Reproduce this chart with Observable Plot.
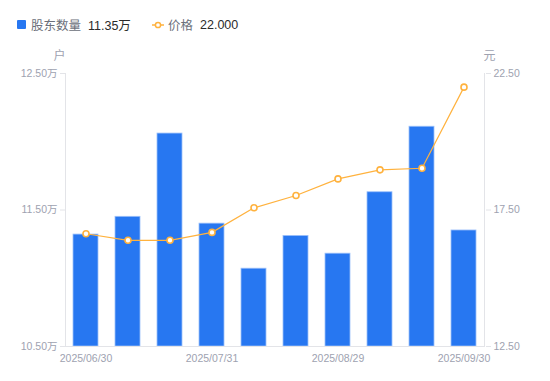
<!DOCTYPE html>
<html><head><meta charset="utf-8">
<script src="https://cdn.jsdelivr.net/npm/d3@7"></script>
<script src="https://cdn.jsdelivr.net/npm/@observablehq/plot@0.6"></script>
<style>
body{margin:0;background:#fff;font-family:"Liberation Sans",Arial,"Noto Sans CJK SC",sans-serif;}
#legend{height:45px;position:relative;font-size:12.5px;}
#legend .item{position:absolute;top:15px;display:flex;align-items:center;white-space:nowrap;}
#legend .name{color:#6b6f7a;margin-right:7px;}
#legend .val{color:#2b2b2b;}
</style></head><body>
<div id="legend">
  <div class="item" style="left:17px"><span style="display:inline-block;width:9px;height:9px;background:#2777f1;border-radius:1px;margin-right:5px"></span><span class="name">股东数量</span><span class="val">11.35万</span></div>
  <div class="item" style="left:152px"><svg width="12" height="10" style="margin-right:4px"><line x1="0" y1="5" x2="12" y2="5" stroke="#ffb23e" stroke-width="1.5"/><circle cx="6" cy="5" r="2.6" fill="#fff" stroke="#ffb23e" stroke-width="1.5"/></svg><span class="name">价格</span><span class="val">22.000</span></div>
</div>
<div id="chart"></div>
<script>
const dates = ["2025/06/30","2025/07/10","2025/07/20","2025/07/31","2025/08/10","2025/08/20","2025/08/29","2025/09/10","2025/09/19","2025/09/30"];
const holders = [11.32, 11.45, 12.06, 11.40, 11.07, 11.31, 11.18, 11.63, 12.11, 11.35]; // 万户
const prices = [16.63, 16.39, 16.39, 16.68, 17.58, 18.03, 18.64, 18.97, 19.03, 22.00]; // 元
const shownDates = ["2025/06/30","2025/07/31","2025/08/29","2025/09/30"];
const leftTicks = [10.5, 11.5, 12.5];
const rightTicks = [12.5, 17.5, 22.5];

const lDom = [10.5, 12.5], rDom = [12.5, 22.5];
const toLeft = p => lDom[0] + (p - rDom[0]) / (rDom[1] - rDom[0]) * (lDom[1] - lDom[0]);
const toRight = v => rDom[0] + (v - lDom[0]) / (lDom[1] - lDom[0]) * (rDom[1] - rDom[0]);

const rows = dates.map((d, i) => ({date: d, h: holders[i], p: prices[i]}));
const axisColor = "#e3e4e8", tickText = "#9ea2b0";

const chart = Plot.plot({
  width: 550, height: 336,
  marginTop: 28, marginBottom: 35, marginLeft: 65, marginRight: 65,
  style: {fontFamily: '"Liberation Sans",Arial,"Noto Sans CJK SC",sans-serif', fontSize: "10.5px", color: tickText},
  x: {type: "band", domain: dates, paddingInner: 0.4, paddingOuter: 0.2, align: 0.5},
  y: {domain: lDom},
  marks: [
    Plot.barY(rows, {x: "date", y1: lDom[0], y2: "h", fill: "#2777f1", stroke: "#9cc0fa", strokeWidth: 0.8}),
    Plot.axisY({ticks: leftTicks, tickFormat: v => v.toFixed(2) + "万", tickSize: 5, tickPadding: 3, stroke: axisColor, fill: tickText, label: null}),
    Plot.axisY({anchor: "right", ticks: leftTicks, tickFormat: v => toRight(v).toFixed(2), tickSize: 5, tickPadding: 3, stroke: axisColor, fill: tickText, label: null}),
    Plot.ruleY([lDom[0]], {stroke: axisColor}),
    Plot.axisX({ticks: shownDates, tickSize: 0, tickPadding: 8, fill: tickText, label: null}),
    Plot.line(rows, {x: "date", y: d => toLeft(d.p), stroke: "#ffb23e", strokeWidth: 1.2}),
    Plot.dot(rows, {x: "date", y: d => toLeft(d.p), r: 3, fill: "#fff", stroke: "#ffb23e", strokeWidth: 1.6}),
    Plot.text(["户"], {frameAnchor: "top-left", dx: -12, dy: -22, fontSize: 12, fill: tickText}),
    Plot.text(["元"], {frameAnchor: "top-right", dx: 10, dy: -22, fontSize: 12, fill: tickText})
  ]
});
document.getElementById("chart").append(chart);
const svg = d3.select(chart);
svg.insert("line", ":first-child").attr("x1", 65.5).attr("x2", 65.5).attr("y1", 28).attr("y2", 301).attr("stroke", axisColor);
svg.insert("line", ":first-child").attr("x1", 484.5).attr("x2", 484.5).attr("y1", 28).attr("y2", 301).attr("stroke", axisColor);
</script>
</body></html>
